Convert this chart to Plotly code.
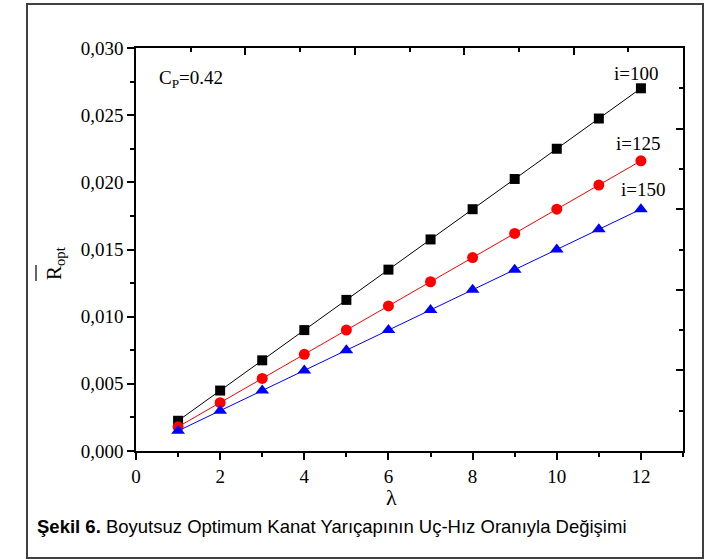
import plotly.graph_objects as go

lam = [1, 2, 3, 4, 5, 6, 7, 8, 9, 10, 11, 12]
r_i100 = [0.00225, 0.0045, 0.00675, 0.009, 0.01125, 0.0135, 0.01575, 0.018, 0.02025, 0.0225, 0.02475, 0.027]
r_i125 = [0.0018, 0.0036, 0.0054, 0.0072, 0.009, 0.0108, 0.0126, 0.0144, 0.0162, 0.018, 0.0198, 0.0216]
r_i150 = [0.0015, 0.003, 0.0045, 0.006, 0.0075, 0.009, 0.0105, 0.012, 0.0135, 0.015, 0.0165, 0.018]
series_names = ["i=100", "i=125", "i=150"]

SERIF = "Liberation Serif"

fig = go.Figure()
styles = [
    (r_i100, "black", "square", 10),
    (r_i125, "#ff0000", "circle", 11),
    (r_i150, "#0000ff", "triangle-up", 12),
]
for (vals, col, sym, sz), name in zip(styles, series_names):
    fig.add_trace(go.Scatter(
        x=lam, y=vals, mode="lines+markers", name=name,
        line=dict(color=col, width=1),
        marker=dict(color=col, symbol=sym, size=sz, line=dict(width=0)),
        showlegend=False,
    ))

# dummy traces to activate mirrored top/right axes
fig.add_trace(go.Scatter(x=[0, 5], y=[0, 0.03], xaxis="x2", yaxis="y",
                         mode="markers", marker=dict(opacity=0),
                         showlegend=False, hoverinfo="skip"))
fig.add_trace(go.Scatter(x=[0, 13], y=[0, 5], xaxis="x", yaxis="y2",
                         mode="markers", marker=dict(opacity=0),
                         showlegend=False, hoverinfo="skip"))

axis_common = dict(showline=True, linecolor="black", linewidth=1.5,
                   showgrid=False, zeroline=False)

fig.update_layout(
    width=717, height=560,
    margin=dict(l=136, r=34, t=48, b=109),
    paper_bgcolor="white", plot_bgcolor="white",
    separators=",.",
    font=dict(family=SERIF, size=19, color="black"),
    xaxis=dict(type="linear", range=[0, 13], dtick=2, tick0=0, ticks="outside", ticklen=7,
               tickwidth=1.5, tickcolor="black",
               minor=dict(dtick=1, tick0=0, ticks="outside", ticklen=4,
                          tickwidth=1.5, tickcolor="black"),
               tickfont=dict(family=SERIF, size=19), **axis_common),
    yaxis=dict(type="linear", range=[0, 0.030], dtick=0.005, tick0=0, tickformat=".3f",
               ticks="outside", ticklen=7, tickwidth=1.5, tickcolor="black",
               minor=dict(dtick=0.0025, tick0=0, ticks="outside", ticklen=4,
                          tickwidth=1.5, tickcolor="black"),
               tickfont=dict(family=SERIF, size=19), **axis_common),
    xaxis2=dict(type="linear", overlaying="x", anchor="y", side="top", range=[0, 5],
                dtick=1, tick0=0,
                ticks="inside", ticklen=7, tickwidth=1.5, tickcolor="black",
                showticklabels=False,
                minor=dict(dtick=0.5, tick0=0, ticks="inside", ticklen=4,
                           tickwidth=1.5, tickcolor="black"),
                **axis_common),
    yaxis2=dict(type="linear", overlaying="y", anchor="x", side="right", range=[0, 5],
                dtick=1, tick0=0,
                ticks="inside", ticklen=7, tickwidth=1.5, tickcolor="black",
                showticklabels=False,
                minor=dict(dtick=0.5, tick0=0, ticks="inside", ticklen=4,
                           tickwidth=1.5, tickcolor="black"),
                **axis_common),
)

annotations = [
    dict(text="i=100", x=11.9, y=0.02811, xref="x", yref="y", showarrow=False,
         font=dict(family=SERIF, size=19)),
    dict(text="i=125", x=11.95, y=0.0229, xref="x", yref="y", showarrow=False,
         font=dict(family=SERIF, size=19)),
    dict(text="i=150", x=12.07, y=0.01943, xref="x", yref="y", showarrow=False,
         font=dict(family=SERIF, size=19)),
    dict(text="C<sub>P</sub>=0.42", x=0.5, y=0.0277, xref="x", yref="y",
         xanchor="left", showarrow=False, font=dict(family=SERIF, size=19)),
    dict(text="R<sub>opt</sub>", x=(40 - 136) / 547, y=(451 - 264) / 403,
         xref="paper", yref="paper", textangle=-90, showarrow=False,
         font=dict(family=SERIF, size=21)),
    dict(text="λ", x=(391 - 136) / 547, y=(451 - 512) / 403,
         xref="paper", yref="paper", showarrow=False,
         font=dict(family=SERIF, size=22)),
    dict(text="<b>Şekil 6.</b> Boyutsuz Optimum Kanat Yarıçapının Uç-Hız Oranıyla Değişimi",
         x=(35 - 136) / 547, y=(451 - 539) / 403, xref="paper", yref="paper",
         xanchor="left", showarrow=False,
         font=dict(family="Liberation Sans", size=18.5)),
]
fig.update_layout(annotations=annotations)

shapes = [
    dict(type="rect", xref="paper", yref="paper",
         x0=(27 - 136) / 547, x1=(703 - 136) / 547,
         y0=(451 - 558) / 403, y1=(451 - 4) / 403,
         line=dict(color="#404040", width=2), fillcolor="rgba(0,0,0,0)"),
    dict(type="line", xref="paper", yref="paper",
         x0=(36 - 136) / 547, x1=(36 - 136) / 547,
         y0=(451 - 281) / 403, y1=(451 - 265) / 403,
         line=dict(color="black", width=1.2)),
]
fig.update_layout(shapes=shapes)

fig.write_html("out.html")
